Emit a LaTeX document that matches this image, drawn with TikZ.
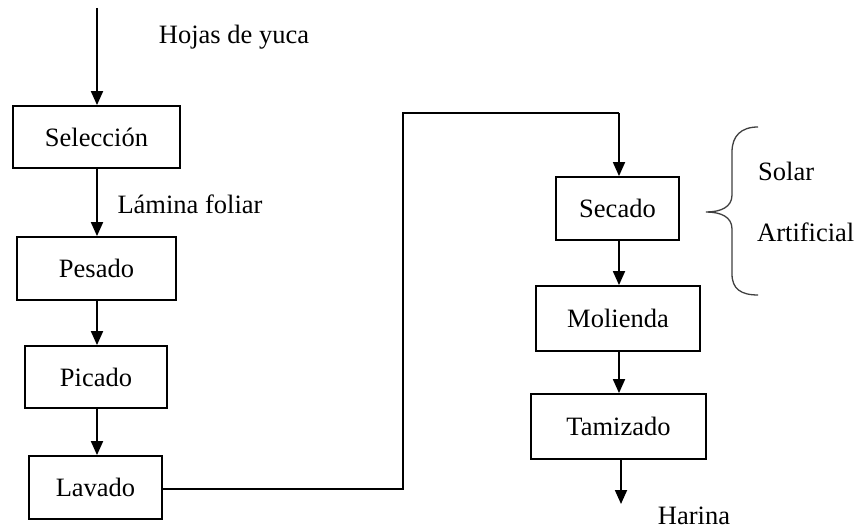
\documentclass[tikz,border=0pt]{standalone}
\usepackage{fontspec}
\setmainfont{Liberation Serif}
\usetikzlibrary{arrows.meta}
\begin{document}
\begin{tikzpicture}[x=1pt,y=-1pt,
  box/.style={draw,line width=1.8pt,inner sep=0pt,font=\fontsize{26.5}{31}\selectfont},
  lbl/.style={inner sep=0pt,font=\fontsize{26.5}{31}\selectfont},
  arr/.style={line width=1.8pt,-{Triangle[width=12pt,length=14pt]}},
  ln/.style={line width=1.8pt}]
\useasboundingbox[fill=white] (0,0) rectangle (861,529);
\node[box,minimum width=167pt,minimum height=62pt] (sel) at (96.5,137) {Selección};
\node[box,minimum width=159pt,minimum height=63pt] (pes) at (96.5,268.5) {Pesado};
\node[box,minimum width=142pt,minimum height=62pt] (pic) at (96,377) {Picado};
\node[box,minimum width=133pt,minimum height=63pt] (lav) at (95.5,487.5) {Lavado};
\node[box,minimum width=123pt,minimum height=63pt] (sec) at (617.5,208.5) {Secado};
\node[box,minimum width=164pt,minimum height=65pt] (mol) at (618,318.5) {Molienda};
\node[box,minimum width=175pt,minimum height=65pt] (tam) at (618.5,426.5) {Tamizado};
\node[lbl] (hojas) at (234,37) {Hojas de yuca};
\node[lbl] (lam) at (190,204) {Lámina foliar};
\node[lbl,anchor=west] (solar) at (758,171) {Solar};
\node[lbl,anchor=west] (artif) at (757,232) {Artificial};
\node[lbl,anchor=base] (har) at (694,524) {Harina};
\coordinate (start) at (97,8);
\coordinate (c1) at (403,489);
\coordinate (c2) at (403,113);
\coordinate (c3) at (619,113);
\coordinate (hend) at (621,504);
\draw[arr] (start) -- (sel.north -| start);
\draw[arr] (sel.south -| start) -- (pes.north -| start);
\draw[arr] (pes.south -| start) -- (pic.north -| start);
\draw[arr] (pic.south -| start) -- (lav.north -| start);
\draw[ln] (lav.east |- c1) -- (c1) -- (c2) -- (c3);
\draw[arr] (c3) -- (sec.north -| c3);
\draw[arr] (sec.south -| c3) -- (mol.north -| c3);
\draw[arr] (mol.south -| c3) -- (tam.north -| c3);
\draw[arr] (tam.south -| hend) -- (hend);
\draw[line width=1.3pt,black!75] (758,127) .. controls (741,127) and (732,136) .. (732,152) -- (732,195)
  .. controls (732,207) and (721,212) .. (706,212)
  .. controls (721,212) and (732,217) .. (732,229) -- (732,274)
  .. controls (732,289) and (741,295) .. (758,295);
\end{tikzpicture}
\end{document}
